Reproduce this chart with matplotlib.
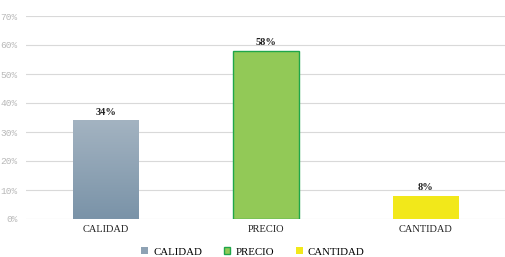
import numpy as np
import matplotlib
matplotlib.use("Agg")
import matplotlib.pyplot as plt
from matplotlib.patches import Patch

categories = ["CALIDAD", "PRECIO", "CANTIDAD"]
values = [0.34, 0.58, 0.08]
labels = ["34%", "58%", "8%"]
yticks = [0, 0.1, 0.2, 0.3, 0.4, 0.5, 0.6, 0.7]

fig = plt.figure(figsize=(5.06, 2.57), dpi=100)
ax = fig.add_axes([26 / 506, 38 / 257, 480 / 506, 203 / 257])

x = np.arange(len(categories))
w = 0.41
bars = ax.bar(x, values, width=w, zorder=3)
bars[0].set_facecolor("none")
bars[0].set_edgecolor("none")
bars[1].set_facecolor("#92c957")
bars[1].set_edgecolor("#1fa64a")
bars[1].set_linewidth(1.0)
bars[2].set_facecolor("#f2e81a")
bars[2].set_edgecolor("none")

# gradient fill for the first bar
grad = np.linspace(0, 1, 100).reshape(-1, 1)
cmap = matplotlib.colors.LinearSegmentedColormap.from_list("g", ["#7a93a8", "#a3b3c1"])
im = ax.imshow(grad, extent=[x[0] - w / 2, x[0] + w / 2, 0, values[0]],
               origin="lower", cmap=cmap, aspect="auto", zorder=3)
im.set_clip_path(bars[0])

for xi, v, lab in zip(x, values, labels):
    ax.text(xi, v + 0.012, lab, ha="center", va="bottom", fontsize=7.5,
            fontweight="bold", family="Liberation Serif", color="#222222")

ax.set_xlim(-0.5, 2.5)
ax.set_ylim(0, 0.7)
ax.set_yticks(yticks)
ax.set_yticklabels([f"{int(round(t * 100))}%" for t in yticks],
                   family="Liberation Mono", fontsize=6.8, color="#b8b8b8")
ax.set_xticks(x)
ax.set_xticklabels(categories, family="Liberation Serif", fontsize=7.5, color="#222222")
ax.tick_params(length=0, pad=4)
ax.tick_params(axis="y", pad=6)
ax.grid(axis="y", color="#d9d9d9", linewidth=0.8, zorder=0)
for s in ax.spines.values():
    s.set_visible(False)

handles = [Patch(facecolor="#8ea2b4", edgecolor="none"),
           Patch(facecolor="#92c957", edgecolor="#1fa64a"),
           Patch(facecolor="#f2e81a", edgecolor="none")]
fig.legend(handles, categories, loc="center", bbox_to_anchor=(0.5, 5 / 257),
           ncol=3, frameon=False, handlelength=0.6, handleheight=0.6,
           columnspacing=2.0, handletextpad=0.5,
           prop={"family": "Liberation Serif", "size": 7.8})

fig.savefig("out.png", dpi=100)
